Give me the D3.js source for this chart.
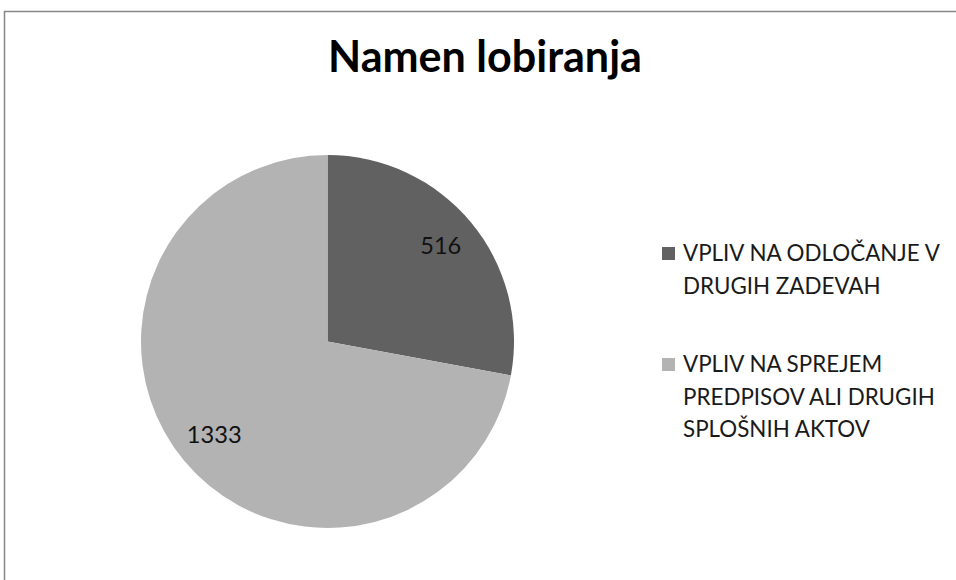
<!DOCTYPE html>
<html>
<head>
<meta charset="utf-8">
<script src="https://cdn.jsdelivr.net/npm/d3@7"></script>
<style>
  html, body { margin: 0; padding: 0; background: #fff; }
  svg { display: block; }
</style>
</head>
<body>
<svg id="chart" width="956" height="580"></svg>
<script>
const title = "Namen lobiranja";
const categories = [
  ["VPLIV NA ODLOČANJE V", "DRUGIH ZADEVAH"],
  ["VPLIV NA SPREJEM", "PREDPISOV ALI DRUGIH", "SPLOŠNIH AKTOV"]
];
const values = [516, 1333];
const colors = ["#616161", "#b3b3b3"];

const svg = d3.select("#chart");
const W = 956, H = 580;
const FONT = "Lato, 'Open Sans', sans-serif";

// fit font size so text width matches target
function fitText(sel, target) {
  const node = sel.node();
  const fs = parseFloat(sel.attr("font-size"));
  const w = node.getComputedTextLength();
  if (w > 0) sel.attr("font-size", fs * target / w);
}

// chart area border
svg.append("rect")
  .attr("x", 4.5).attr("y", 11.5)
  .attr("width", 1000).attr("height", 700)
  .attr("fill", "#fff")
  .attr("stroke", "#878787").attr("stroke-width", 1.5);

// title
const t = svg.append("text")
  .attr("x", 485).attr("y", 72)
  .attr("text-anchor", "middle")
  .attr("font-family", FONT)
  .attr("font-weight", "bold")
  .attr("font-size", 40)
  .attr("fill", "#000")
  .text(title);
fitText(t, 314);

// pie
const cx = 327.5, cy = 341.5, R = 186.5;
const pie = d3.pie().sort(null).value(d => d).startAngle(0).endAngle(2 * Math.PI);
const arcs = pie(values);
const arc = d3.arc().innerRadius(0).outerRadius(R);
const labelArc = d3.arc().innerRadius(R * 0.79).outerRadius(R * 0.79);

const g = svg.append("g").attr("transform", `translate(${cx},${cy})`);
g.selectAll("path.slice")
  .data(arcs)
  .join("path")
  .attr("class", "slice")
  .attr("d", arc)
  .attr("fill", (d, i) => colors[i]);

const labelWidths = [41, 55];
g.selectAll("text.lbl")
  .data(arcs)
  .join("text")
  .attr("class", "lbl")
  .attr("font-family", FONT)
  .attr("font-size", 20)
  .attr("fill", "#111")
  .attr("text-anchor", "middle")
  .attr("transform", d => {
    const c = labelArc.centroid(d);
    return `translate(${c[0]},${c[1] + 7})`;
  })
  .text(d => d3.format("d")(d.data))
  .each(function (d, i) { fitText(d3.select(this), labelWidths[i]); });

// legend
const legX = 662, textX = 683, lineH = 32.5;
const legBaselines = [261, 372];
const legendFs = 20;
const lg = svg.append("g");
categories.forEach((lines, i) => {
  lg.append("rect")
    .attr("x", legX).attr("y", legBaselines[i] - 14)
    .attr("width", 13).attr("height", 13)
    .attr("fill", colors[i]);
  const tx = lg.append("text")
    .attr("font-family", FONT)
    .attr("font-size", legendFs)
    .attr("fill", "#1a1a1a");
  lines.forEach((ln, j) => {
    tx.append("tspan")
      .attr("x", textX)
      .attr("y", legBaselines[i] + j * lineH)
      .text(ln);
  });
});
// fit legend font by the first line width
(function () {
  const probe = lg.append("text").attr("font-family", FONT).attr("font-size", 20).text(categories[0][0]);
  const w = probe.node().getComputedTextLength();
  probe.remove();
  lg.selectAll("text").attr("font-size", 20 * 257 / w);
})();
</script>
</body>
</html>
